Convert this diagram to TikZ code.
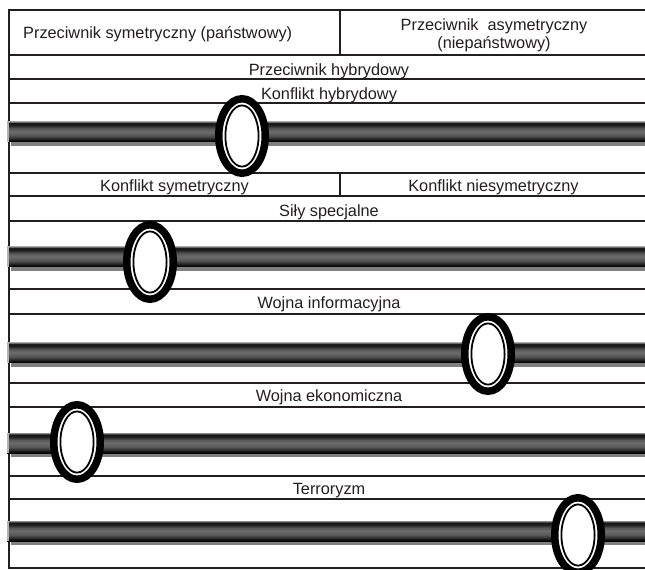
\documentclass[tikz,border=0pt]{standalone}
\usepackage{fontspec}
\setmainfont{Liberation Sans}
\definecolor{ink}{HTML}{231F20}
\pgfdeclareverticalshading{barshade}{100bp}{color(0bp)=(black); color(25bp)=(black); color(28bp)=(black!95); color(33bp)=(black!82); color(40bp)=(black!66); color(50bp)=(black!58); color(58bp)=(black!66); color(65bp)=(black!86); color(71bp)=(black!92); color(74bp)=(black!55); color(75bp)=(black!45); color(100bp)=(black!45)}
\begin{document}
\begin{tikzpicture}[x=1pt,y=-1pt,
  rule/.style={draw=ink, line width=2pt},
  lbl/.style={inner sep=0pt, anchor=base, font=\fontsize{16.3}{19.5}\selectfont, text=ink},
  ring/.style={draw=black, line width=7.5pt, fill=white},
  innerring/.style={draw=black, line width=1.8pt},
  shadowbar/.style={fill=black!50},
  capbar/.style={fill=black!30}]
\useasboundingbox (0,0) rectangle (645,570);
\clip (0,0) rectangle (645,570);
\fill[white] (0,0) rectangle (645,570);

% table rules
\foreach \yy in {10,55,79,103,173,196,221,289,314,383,407,476,499,568}
  \draw[rule] (8,\yy) -- (650,\yy);
\draw[rule] (9,9) -- (9,569);
\draw[rule] (340,10) -- (340,55);
\draw[rule] (340,173) -- (340,196);

% slider bars
\foreach \t in {121.5,246.5,342.5,433,521} {
  \fill[shadowbar] (11,\t+5) rectangle (650,\t+24);
  \shade[shading=barshade] (7,\t) rectangle (650,\t+20);
  \fill[capbar] (7,\t) rectangle (9,\t+20);
}

% slider knobs
\foreach \cx/\cy in {242/136, 150/262, 488/354, 77/442, 578/535} {
  \draw[ring] (\cx,\cy) ellipse [x radius=23.25, y radius=37.25];
  \draw[innerring] (\cx,\cy) ellipse [x radius=16.6, y radius=30.6];
}

% labels
\node[lbl, anchor=base west] (sym) at (23,38.5) {Przeciwnik symetryczny (państwowy)};
\node[lbl] (asymA) at (494,30.5) {Przeciwnik\ \ asymetryczny};
\node[lbl] (asymB) at (494,48) {(niepaństwowy)};
\node[lbl] (hybA) at (329,75.5) {Przeciwnik hybrydowy};
\node[lbl] (hybB) at (329,99.5) {Konflikt hybrydowy};
\node[lbl] (ksym) at (174.5,191.5) {Konflikt symetryczny};
\node[lbl] (kasym) at (493.5,191.5) {Konflikt niesymetryczny};
\node[lbl] (sily) at (329,216) {Siły specjalne};
\node[lbl] (info) at (329,308.5) {Wojna informacyjna};
\node[lbl] (eko) at (329,401.5) {Wojna ekonomiczna};
\node[lbl] (terr) at (329,494.5) {Terroryzm};
\end{tikzpicture}
\end{document}
